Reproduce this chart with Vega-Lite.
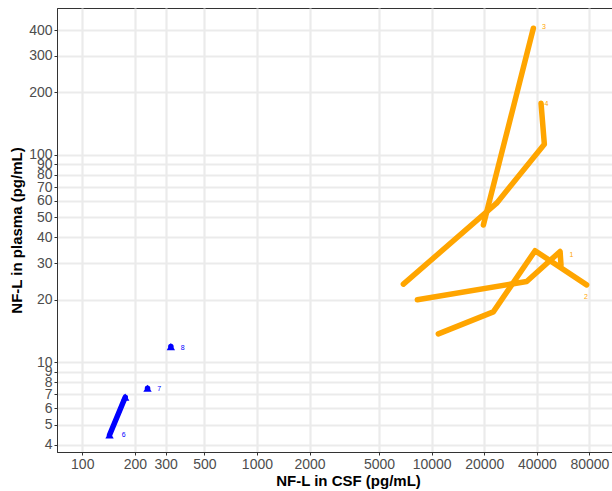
{
  "$schema": "https://vega.github.io/schema/vega-lite/v6.json",
  "autosize": {"type": "none"},
  "width": 555,
  "height": 444,
  "padding": {"left": 57, "top": 8, "right": 0, "bottom": 39},
  "background": "white",
  "config": {
    "view": {"stroke": "#333333", "strokeWidth": 1},
    "font": "Liberation Sans",
    "axis": {
      "grid": true,
      "gridColor": "#EBEBEB",
      "gridWidth": 2.2,
      "domainColor": "#333333",
      "domainWidth": 1,
      "tickColor": "#333333",
      "tickSize": 3,
      "labelColor": "#4D4D4D",
      "labelFontSize": 14,
      "labelFont": "Liberation Sans",
      "labelOverlap": false,
      "titleFont": "Liberation Sans",
      "titleFontSize": 15,
      "titleFontWeight": "bold",
      "titleColor": "#000000"
    }
  },
  "datasets": {
    "series": [
      {"id": "1", "cohort": "A", "t": 1, "csf": 8280, "plasma": 20.0},
      {"id": "1", "cohort": "A", "t": 2, "csf": 34990, "plasma": 24.5},
      {"id": "1", "cohort": "A", "t": 3, "csf": 54330, "plasma": 34.2},
      {"id": "1", "cohort": "A", "t": 4, "csf": 55000, "plasma": 29.4},
      {"id": "2", "cohort": "A", "t": 1, "csf": 10920, "plasma": 13.7},
      {"id": "2", "cohort": "A", "t": 2, "csf": 22540, "plasma": 17.5},
      {"id": "2", "cohort": "A", "t": 3, "csf": 39080, "plasma": 34.5},
      {"id": "2", "cohort": "A", "t": 4, "csf": 77100, "plasma": 23.6},
      {"id": "3", "cohort": "A", "t": 1, "csf": 19770, "plasma": 45.9},
      {"id": "3", "cohort": "A", "t": 2, "csf": 38200, "plasma": 408},
      {"id": "4", "cohort": "A", "t": 1, "csf": 6890, "plasma": 23.8},
      {"id": "4", "cohort": "A", "t": 2, "csf": 23550, "plasma": 58.5},
      {"id": "4", "cohort": "A", "t": 3, "csf": 44160, "plasma": 112.6},
      {"id": "4", "cohort": "A", "t": 4, "csf": 42270, "plasma": 177.4},
      {"id": "6", "cohort": "B", "t": 1, "csf": 143.3, "plasma": 4.46},
      {"id": "6", "cohort": "B", "t": 2, "csf": 176.2, "plasma": 6.78},
      {"id": "7", "cohort": "B", "t": 1, "csf": 236.4, "plasma": 7.49},
      {"id": "8", "cohort": "B", "t": 1, "csf": 321.5, "plasma": 11.9}
    ],
    "labels": [
      {"id": "1", "cohort": "A", "csf": 63100, "plasma": 32.9},
      {"id": "2", "cohort": "A", "csf": 76400, "plasma": 20.6},
      {"id": "3", "cohort": "A", "csf": 43950, "plasma": 414.5},
      {"id": "4", "cohort": "A", "csf": 45400, "plasma": 176.2},
      {"id": "6", "cohort": "B", "csf": 172.6, "plasma": 4.46},
      {"id": "7", "cohort": "B", "csf": 275.8, "plasma": 7.40},
      {"id": "8", "cohort": "B", "csf": 375.8, "plasma": 11.66}
    ]
  },
  "encoding": {
    "x": {
      "field": "csf", "type": "quantitative",
      "scale": {"type": "log", "domain": [71.7, 107700], "nice": false},
      "axis": {"title": "NF-L in CSF (pg/mL)", "values": [100, 200, 300, 500, 1000, 2000, 5000, 10000, 20000, 40000, 80000], "format": "d", "labelPadding": 2, "titlePadding": 2, "titleX": 291}
    },
    "y": {
      "field": "plasma", "type": "quantitative",
      "scale": {"type": "log", "domain": [3.69, 511], "nice": false, "zero": false},
      "axis": {"title": "NF-L in plasma (pg/mL)", "values": [4, 5, 6, 7, 8, 9, 10, 20, 30, 40, 50, 60, 70, 80, 90, 100, 200, 300, 400], "format": "d", "labelPadding": 2, "titlePadding": 4}
    },
    "color": {
      "field": "cohort", "type": "nominal",
      "scale": {"domain": ["A", "B"], "range": ["#FFA500", "#0000FF"]},
      "legend": null
    }
  },
  "layer": [
    {
      "data": {"name": "series"},
      "mark": {"type": "line", "strokeWidth": 5.5, "strokeCap": "round", "strokeJoin": "round"},
      "encoding": {
        "detail": {"field": "id"},
        "order": {"field": "t", "type": "quantitative"}
      }
    },
    {
      "data": {"name": "series"},
      "transform": [{"filter": "datum.cohort === 'B'"}],
      "mark": {"type": "point", "shape": "triangle-up", "filled": true, "size": 70, "opacity": 1}
    },
    {
      "data": {"name": "labels"},
      "mark": {"type": "text", "fontSize": 7, "align": "center", "baseline": "middle"},
      "encoding": {"text": {"field": "id"}}
    }
  ]
}
